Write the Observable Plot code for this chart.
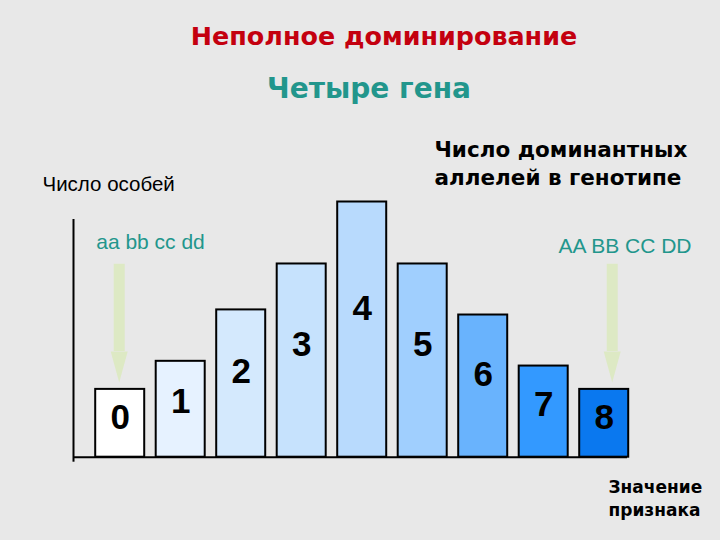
<!DOCTYPE html>
<html>
<head>
<meta charset="utf-8">
<script src="https://cdn.jsdelivr.net/npm/d3@7"></script>
<script src="https://cdn.jsdelivr.net/npm/@observablehq/plot@0.6"></script>
<style>
  html, body { margin: 0; padding: 0; background: #e8e8e8; width: 720px; height: 540px; overflow: hidden; }
  #head { position: relative; height: 110px; }
  .t { position: absolute; text-align: center; font-family: "DejaVu Sans", sans-serif; font-weight: bold; line-height: 1; white-space: nowrap; }
  #title { left: 48px; width: 672px; top: 24px; font-size: 25.4px; color: #c4000f; }
  #subtitle { left: 18px; width: 702px; top: 74.5px; font-size: 28px; color: #22968c; }
  svg { display: block; overflow: visible; }
</style>
</head>
<body>
<div id="head">
  <div class="t" id="title">Неполное доминирование</div>
  <div class="t" id="subtitle">Четыре гена</div>
</div>
<div id="chart"></div>
<script>
// Number of dominant alleles in genotype (classes) and relative number of individuals
const classes = [0, 1, 2, 3, 4, 5, 6, 7, 8];
const counts = [18.6, 26.3, 40.4, 53.0, 70.0, 53.0, 39.0, 25.0, 18.6];
const barColors = ["#ffffff", "#e6f2ff", "#d4e9fd", "#c6e2fd", "#b8dafd", "#a0cffe", "#69b3fd", "#3399ff", "#0a78ef"];
const yLabel = "Число особей";
const classLabel = "Число доминантных\nаллелей в генотипе";
const xLabel = "Значение\nпризнака";
const recessive = "aa bb cc dd";
const dominant = "AA BB CC DD";

const bars = classes.map((c, i) => ({c, n: counts[i], color: barColors[i]}));
const arrows = [
  {c: classes[0], top: 52.9, base: 29.0},
  {c: classes[8], top: 52.9, base: 29.0}
];

const arrowColor = "#dde9c4";
const teal = "#22968c";

const xDomain = [-0.772, 8.385];

const chart = Plot.plot({
  width: 720,
  height: 430,
  marginLeft: 73,
  marginRight: 93,
  marginTop: 109,
  marginBottom: 83.3,
  style: {background: "transparent", overflow: "visible"},
  x: {type: "linear", domain: xDomain, axis: null},
  y: {domain: [0, 65.2], axis: null},
  marks: [
    // arrows
    Plot.ruleX(arrows.slice(0, 1), {x: "c", y1: "top", y2: "base", dx: -1, stroke: arrowColor, strokeWidth: 11}),
    Plot.ruleX(arrows.slice(1), {x: "c", y1: "top", y2: "base", dx: 8, stroke: arrowColor, strokeWidth: 11}),
    Plot.vector(arrows.slice(0, 1), {x: "c", y: "base", dx: -1, shape: "spike", length: 31, r: 8.5, rotate: 180, anchor: "start", fill: arrowColor, stroke: "none"}),
    Plot.vector(arrows.slice(1), {x: "c", y: "base", dx: 8, shape: "spike", length: 31, r: 8.5, rotate: 180, anchor: "start", fill: arrowColor, stroke: "none"}),
    // bars
    Plot.rectY(bars, {x1: d => d.c - 0.405, x2: d => d.c + 0.405, y1: 0, y2: "n", fill: "color", stroke: "#000", strokeWidth: 2}),
    // bar numbers
    Plot.text(bars, {x: "c", y: d => d.n * 0.58, text: d => String(d.c), fontSize: 35, fontWeight: "bold", fontFamily: "Liberation Sans, Arial, sans-serif", fill: "#000", lineAnchor: "middle"}),
    // axes
    Plot.ruleY([0], {stroke: "#000", strokeWidth: 2}),
    Plot.ruleX([xDomain[0]], {stroke: "#000", strokeWidth: 2, insetBottom: -5}),
    // annotations
    Plot.text([yLabel], {frameAnchor: "top-left", dx: -31, dy: -35, textAnchor: "start", lineAnchor: "middle", fontSize: 20.5, fontFamily: "Liberation Sans, Arial, sans-serif", fill: "#000"}),
    Plot.text([classLabel], {frameAnchor: "top-left", dx: 361, dy: -57, textAnchor: "start", lineAnchor: "middle", lineHeight: 1.3, fontSize: 21.5, fontWeight: "bold", fontFamily: "DejaVu Sans, sans-serif", fill: "#000"}),
    Plot.text([recessive], {x: classes[0], frameAnchor: "top", dx: -24, dy: 23, textAnchor: "start", lineAnchor: "middle", fontSize: 21, fontFamily: "Liberation Sans, Arial, sans-serif", fill: teal}),
    Plot.text([dominant], {frameAnchor: "top-right", dx: 64, dy: 27, textAnchor: "end", lineAnchor: "middle", fontSize: 21, fontFamily: "Liberation Sans, Arial, sans-serif", fill: teal}),
    Plot.text([xLabel], {frameAnchor: "bottom-right", dx: -19, dy: 20, textAnchor: "start", lineAnchor: "top", lineHeight: 1.35, fontSize: 17, fontWeight: "bold", fontFamily: "DejaVu Sans, sans-serif", fill: "#000"})
  ]
});
document.getElementById("chart").appendChild(chart);
</script>
</body>
</html>
